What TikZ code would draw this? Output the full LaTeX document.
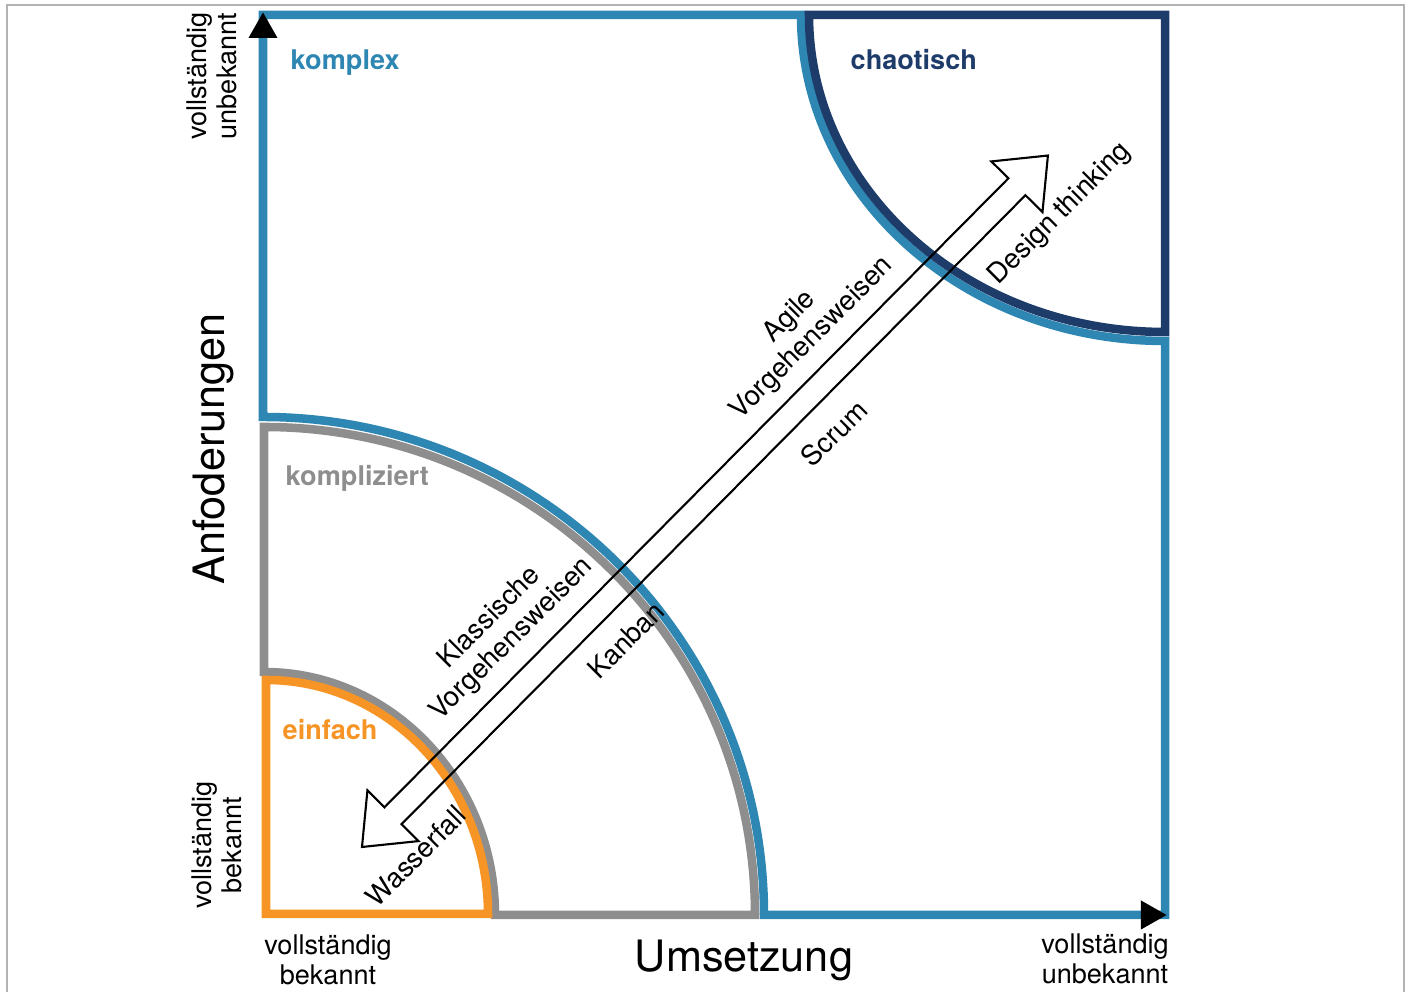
\documentclass[tikz,border=0pt]{standalone}
\usepackage{fontspec}
\setmainfont{TeX Gyre Heros}
\usetikzlibrary{arrows.meta}
\definecolor{komplexblau}{RGB}{46,134,178}
\definecolor{chaosblau}{RGB}{30,60,105}
\definecolor{kompgrau}{RGB}{142,142,142}
\definecolor{einforange}{RGB}{246,148,38}
\definecolor{rahmengrau}{RGB}{178,178,178}

\begin{document}
\begin{tikzpicture}[x=0.01cm,y=0.01cm,
        feld/.style={line width=0.085cm,line join=miter},
        bereich/.style={font=\bfseries\fontsize{7.7}{9}\selectfont,anchor=base west,inner sep=0},
        achse/.style={font=\fontsize{7.7}{8.6}\selectfont,align=center,inner sep=0},
        titel/.style={font=\fontsize{12.3}{14}\selectfont,inner sep=0},
        methode/.style={font=\fontsize{7.85}{8.8}\selectfont,align=center,rotate=45,inner sep=0},
        pfeil/.style={line width=0.085cm,komplexblau,-{Triangle[color=black,length=0.26cm,width=0.27cm]}}]
        \useasboundingbox(0,0)rectangle(1411,992);
        \draw[rahmengrau,line width=0.02cm](7,-20)--(7,987)--(1404,987)--(1404,-20);
        \coordinate(o)at(263,77);
        \coordinate(ya)at(263,900);
        \coordinate(ytop)at(263,980);
        \coordinate(xa)at(1100,77);
        \coordinate(xend)at(1167,77);
        \draw[feld,komplexblau](263,575)--(263,977)--(801,977)arc[start angle=180,end angle=270,x radius=364,y radius=326]--(1165,77)--(764,77)arc[start angle=0,end angle=90,x radius=501,y radius=498]--cycle;
        \draw[feld,chaosblau](809,977)--(1165,977)--(1165,660)arc[start angle=270,end angle=180,x radius=356,y radius=317]--cycle;
        \draw[feld,kompgrau](264,565)--(264,320)arc[start angle=90,end angle=0,x radius=231,y radius=243]--(755,77)arc[start angle=0,end angle=90,x radius=491,y radius=488]--cycle;
        \draw[feld,einforange](266,78)--(266,312)arc[start angle=90,end angle=0,x radius=222,y radius=234]--cycle;
        \begin{scope}[shift={(362,145)},rotate=45.23]
        \draw[line width=0.6pt,line join=miter](0,0)--(44,36)--(44,12)--(930,12)--(930,36)--(974,0)--(930,-36)--(930,-12)--(44,-12)--(44,-36)--cycle;
        \end{scope}
        \node[bereich,komplexblau](komplex)at(290,922){komplex};
        \node[bereich,chaosblau](chaotisch)at(850,922){chaotisch};
        \node[bereich,kompgrau](kompliziert)at(285,506){kompliziert};
        \node[bereich,einforange](einfach)at(282,252){einfach};
        \node[achse,rotate=90](yoben)at(212,916){vollständig\\unbekannt};
        \node[achse,rotate=90](yunten)at(217,147){vollständig\\bekannt};
        \node[achse](xlinks)at(328,32){vollständig\\bekannt};
        \node[achse](xrechts)at(1105,33){vollständig\\unbekannt};
        \node[titel,rotate=90](anforderung)at(213,543){Anfoderungen};
        \node[titel,anchor=base](umsetzung)at(744,20){Umsetzung};
        \node[methode](agile)at(801,664){Agile\\Vorgehensweisen};
        \node[methode](scrum)at(834,559){Scrum};
        \node[methode](design)at(1060,778){Design thinking};
        \node[methode](klassisch)at(501,363){Klassische\\Vorgehensweisen};
        \node[methode](kanban)at(626,352){Kanban};
        \node[methode](wasserfall)at(416,136){Wasserfall};
        \draw[pfeil](ya)--(ytop);
        \draw[pfeil](xa)--(xend);
\end{tikzpicture}
\end{document}
